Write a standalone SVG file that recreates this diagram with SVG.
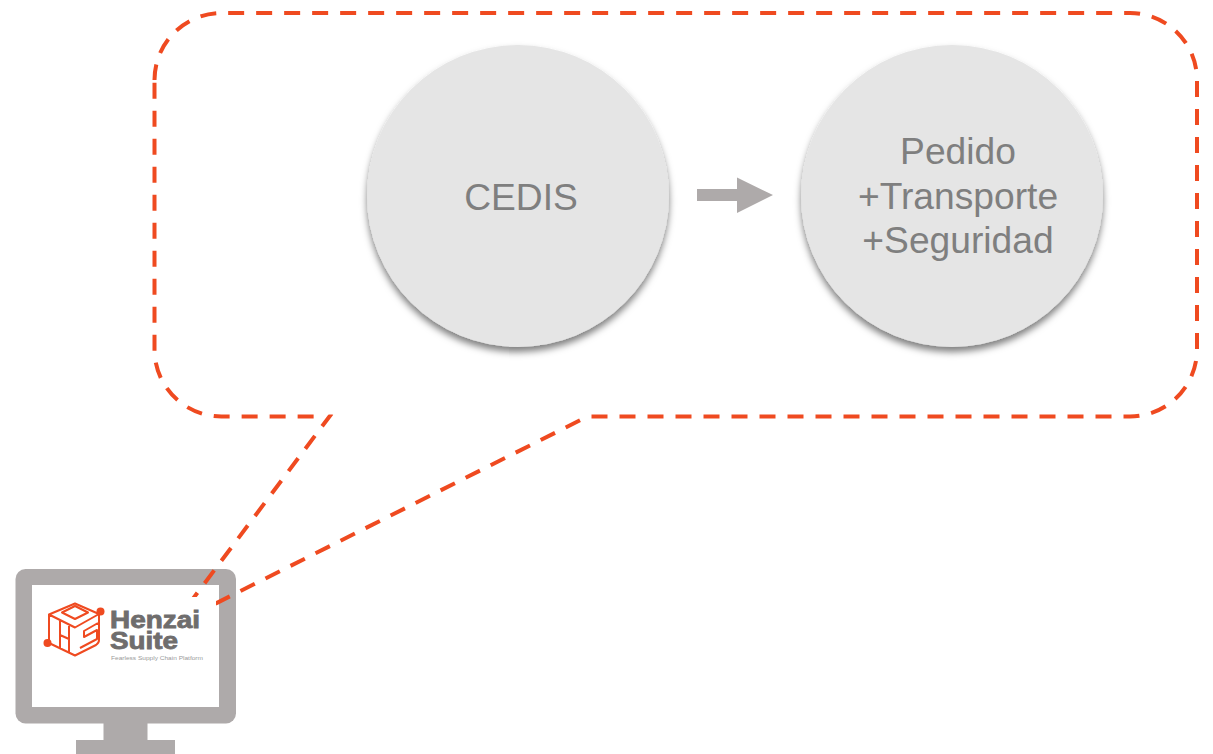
<svg xmlns="http://www.w3.org/2000/svg" width="1213" height="754" viewBox="0 0 1213 754">
<style>
.dash{fill:none;stroke:#ef4a20;stroke-width:4;stroke-dasharray:16 12}
.disc{fill:#e5e5e5;filter:url(#sh)}
.lbl{font-family:"Liberation Sans",Arial,sans-serif;font-size:37.2px;fill:#7f7f7f;text-anchor:middle}
.mon{fill:#aeaaaa}
.lg{fill:none;stroke:#ef4a20;stroke-width:2;stroke-linejoin:round}
.hs{font-family:"Liberation Sans",Arial,sans-serif;font-weight:bold;font-size:23px;fill:#6f6d6d;stroke:#6f6d6d;stroke-width:.8}
</style>
<defs>
<filter id="sh" x="-10%" y="-10%" width="120%" height="125%"><feDropShadow dx="0" dy="5" stdDeviation="3.500" flood-color="#000" flood-opacity=".5"/></filter>
<clipPath id="tailclip"><rect x="150" y="414.500" width="460" height="220"/></clipPath>
</defs>
<g id="node-monitor">
<rect class="mon" x="15.500" y="569" width="220.500" height="154.500" rx="10"/>
<rect class="mon" x="103.500" y="723" width="44" height="18"/>
<rect class="mon" x="76" y="740" width="99" height="14"/>
<rect x="32" y="585" width="187" height="122" fill="#fff"/>
</g>
<g id="connectors">
<path id="callout-body" class="dash" stroke-dashoffset="24.100" d="M587.600 416.500H1130A67 67 0 0 0 1197 349.500V80A67 67 0 0 0 1130 13H221.500A67 67 0 0 0 154.500 80"/>
<path id="callout-left" class="dash" d="M154.500 82.700V349.500A67 67 0 0 0 221.500 416.500H314"/>
<path id="callout-tail-left" class="dash" clip-path="url(#tailclip)" d="M331.700 413.500L173.500 624.700"/>
<path id="callout-tail-right" class="dash" stroke-dashoffset="19.500" d="M587.600 416.500L173.500 624.700"/>
<path id="arrow" class="mon" d="M697 189H737V177.500L773 195L737 213V201H697Z"/>
</g>
<g id="node-cedis">
<circle class="disc" cx="518" cy="196" r="151"/>
<text class="lbl" x="521" y="210">CEDIS</text>
</g>
<g id="node-pedido">
<circle class="disc" cx="952" cy="196" r="151"/>
<text class="lbl" x="958" y="164">Pedido</text>
<text class="lbl" x="958" y="209">+Transporte</text>
<text class="lbl" x="958" y="253">+Seguridad</text>
</g>
<g id="logo">
<rect x="32" y="597" width="184" height="80" fill="#fff"/>
<path class="lg" d="M75 603.500L49 614.500V643L75 655.500L96 645Q99 643 99 640V614L75 603.500ZM49 614.500L75 627.500L99 614M62 612.500L75 606L88 612.500L75 619ZM60 621V648M69 626V652M60 635L69 639M98 623L84 631V637L97 630V639L80 648"/>
<circle cx="100.500" cy="611.500" r="4" fill="#ef4a20"/>
<circle cx="47.500" cy="643" r="4" fill="#ef4a20"/>
<text class="hs" x="110" y="628" textLength="90" lengthAdjust="spacingAndGlyphs">Henzai</text>
<text class="hs" x="110" y="649" textLength="68" lengthAdjust="spacingAndGlyphs">Suite</text>
<text x="111" y="659.500" font-family="'Liberation Sans',Arial,sans-serif" font-size="6" textLength="92" lengthAdjust="spacingAndGlyphs" fill="#9a9a9a">Fearless Supply Chain Platform</text>
</g>
</svg>
